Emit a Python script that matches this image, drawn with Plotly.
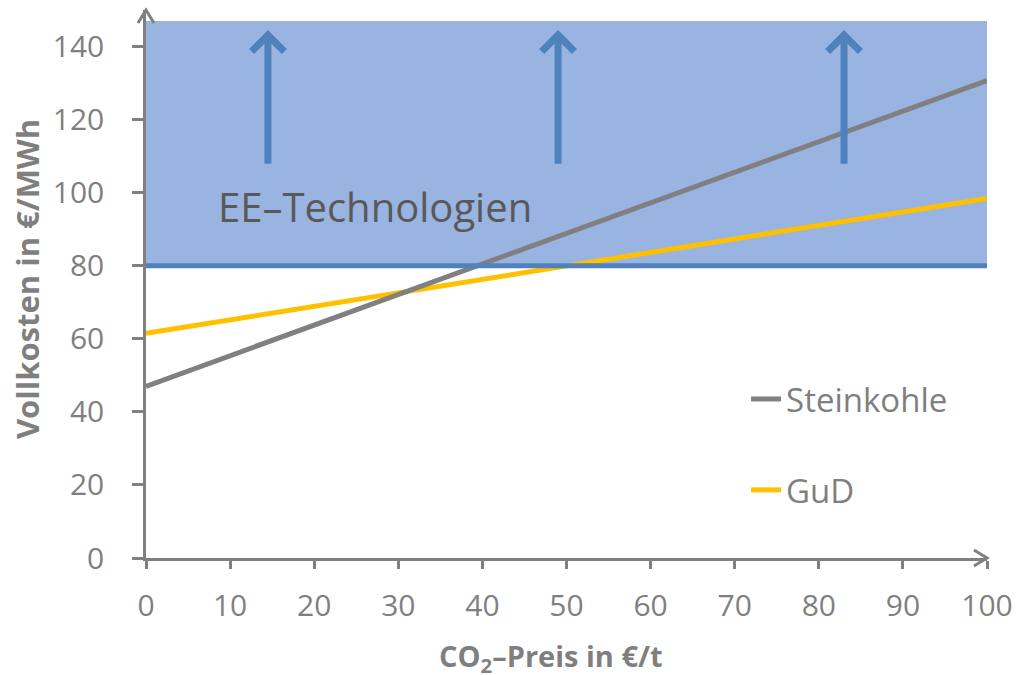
import plotly.graph_objects as go

# CO2 price (€/t) and full costs (€/MWh)
co2_price = [0, 10, 20, 30, 40, 50, 60, 70, 80, 90, 100]
steinkohle = [47.0, 55.4, 63.7, 72.1, 80.5, 88.9, 97.2, 105.6, 113.9, 122.3, 130.7]
gud = [61.5, 65.2, 68.9, 72.6, 76.3, 80.0, 83.6, 87.3, 91.0, 94.7, 98.4]

# Renewable cost band
ee_level = 80
ee_top = 147
ee_arrow_x = [14.5, 49, 83]
ee_arrow_from = 107.5
ee_arrow_to = 144.5

x_ticks = [0, 10, 20, 30, 40, 50, 60, 70, 80, 90, 100]
y_ticks = [0, 20, 40, 60, 80, 100, 120, 140]

GREY = "#808080"
TEXT = "#7F7F7F"
BLUE = "#4F81BD"
FILL = "#9AB4E2"
YELLOW = "#FFC000"
FONT = "Open Sans"

fig = go.Figure()

fig.add_trace(go.Scatter(
    x=co2_price, y=gud, mode="lines", name="GuD",
    line=dict(color=YELLOW, width=5), legendgroup="g", legendrank=2,
))
fig.add_trace(go.Scatter(
    x=co2_price, y=steinkohle, mode="lines", name="Steinkohle",
    line=dict(color=GREY, width=5), legendgroup="s", legendrank=1,
))
# EE cost threshold line on top of the fuel lines
fig.add_trace(go.Scatter(
    x=[co2_price[0], co2_price[-1]], y=[ee_level, ee_level], mode="lines",
    line=dict(color=BLUE, width=5), showlegend=False, hoverinfo="skip",
))

# Shaded band above the EE threshold
fig.add_shape(type="rect", xref="x", yref="y", x0=co2_price[0], x1=co2_price[-1],
              y0=ee_level, y1=ee_top, fillcolor=FILL, line_width=0, layer="below")

# Open chevrons at the ends of both axes (pixel-sized paths)
fig.add_shape(type="path", xref="paper", yref="paper",
              xsizemode="pixel", ysizemode="pixel", xanchor=1, yanchor=0,
              path="M-13,-8 L0,0 L-13,8", line=dict(color=GREY, width=3))
fig.add_shape(type="path", xref="paper", yref="paper",
              xsizemode="pixel", ysizemode="pixel", xanchor=0, yanchor=1,
              path="M-8,-13 L0,0 L8,-13", line=dict(color=GREY, width=3))

annotations = []
for ax_x in ee_arrow_x:
    annotations.append(dict(
        x=ax_x, y=ee_arrow_to, ax=ax_x, ay=ee_arrow_from,
        xref="x", yref="y", axref="x", ayref="y", text="",
        showarrow=True, arrowhead=4, arrowsize=0.9, arrowwidth=7, arrowcolor=BLUE,
    ))

annotations.append(dict(
    x=8.3, y=96.3, xref="x", yref="y", text="EE–Technologien",
    showarrow=False, xanchor="left", yanchor="middle",
    font=dict(family=FONT, size=40, color="#595959"),
))

# Axis titles
annotations.append(dict(
    x=0.4812, y=-0.1807, xref="paper", yref="paper",
    text="<b>CO<sub>2</sub>–Preis in €/t</b>", showarrow=False,
    xanchor="center", yanchor="middle",
    font=dict(family=FONT, size=29, color=TEXT),
))
annotations.append(dict(
    x=-0.1415, y=0.509, xref="paper", yref="paper",
    text="<b>Vollkosten in €/MWh</b>", showarrow=False, textangle=-90,
    xanchor="center", yanchor="middle",
    font=dict(family=FONT, size=31, color=TEXT),
))

fig.update_layout(
    width=1016, height=675,
    margin=dict(l=146, r=29, t=10, b=117),
    paper_bgcolor="white", plot_bgcolor="white",
    font=dict(family=FONT, size=30, color=TEXT),
    showlegend=True,
    legend=dict(
        x=0.7135, y=0.3412, xanchor="left", yanchor="top",
        bgcolor="rgba(0,0,0,0)", tracegroupgap=45,
        font=dict(family=FONT, size=33, color=TEXT),
        itemwidth=30,
    ),
    annotations=annotations,
)

fig.update_xaxes(
    range=[0, 100], tickvals=x_ticks, showgrid=False, zeroline=False,
    showline=True, linecolor=GREY, linewidth=2.5, automargin=False,
    ticks="outside", ticklen=8, tickwidth=2.5, tickcolor=GREY,
    ticklabelstandoff=11,
    tickfont=dict(family=FONT, size=30, color=TEXT),
)
fig.update_yaxes(
    range=[0, 150], tickvals=y_ticks, showgrid=False, zeroline=False,
    showline=True, linecolor=GREY, linewidth=2.5, automargin=False,
    ticks="outside", ticklen=11, tickwidth=2.5, tickcolor=GREY,
    ticklabelstandoff=22,
    tickfont=dict(family=FONT, size=30, color=TEXT),
)

fig.write_html("out.html")
